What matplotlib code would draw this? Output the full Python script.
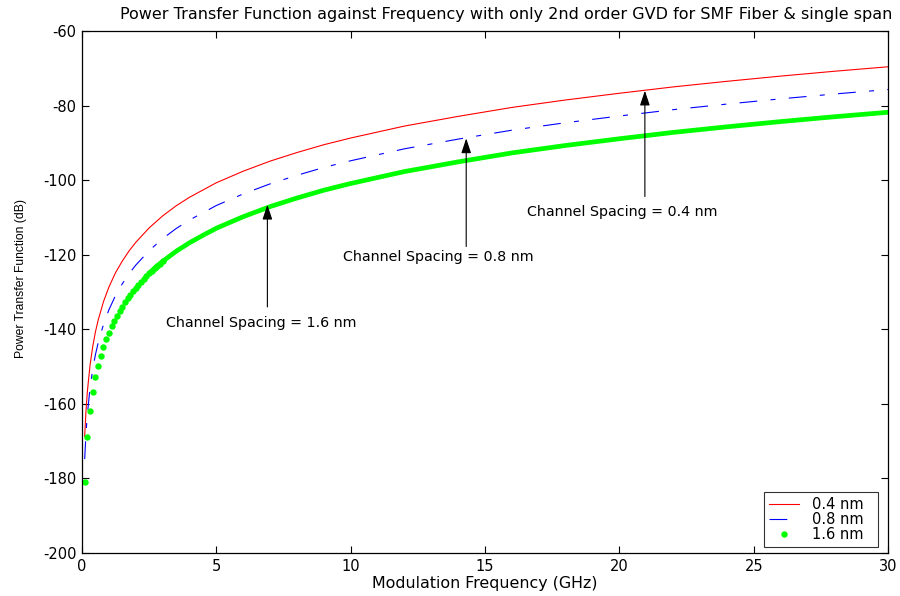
import matplotlib
matplotlib.use("Agg")
import matplotlib.pyplot as plt
import numpy as np

plt.rcParams["font.family"] = ["DejaVu Sans"]
plt.rcParams["axes.unicode_minus"] = False

# Modulation frequency grid (GHz) for the two solid/dashed curves
freq_lines = [0.1, 0.15, 0.2, 0.3, 0.4, 0.5, 0.6, 0.8, 1.0, 1.25, 1.5, 1.75,
              2.0, 2.5, 3, 3.5, 4, 5, 6, 7, 8, 9, 10, 12, 14, 16, 18, 20,
              22, 24, 26, 28, 30]

# Power transfer function (dB), 0.4 nm channel spacing
ptf_04 = [-168.7, -161.7, -156.7, -149.6, -144.6, -140.7, -137.6, -132.6,
          -128.7, -124.8, -121.7, -119.0, -116.7, -112.8, -109.6, -106.9,
          -104.6, -100.7, -97.6, -94.9, -92.6, -90.5, -88.7, -85.5, -82.9,
          -80.5, -78.5, -76.7, -75.0, -73.5, -72.1, -70.8, -69.6]

# Power transfer function (dB), 0.8 nm channel spacing
ptf_08 = [-174.8, -167.8, -162.8, -155.7, -150.7, -146.8, -143.7, -138.7,
          -134.8, -130.9, -127.8, -125.1, -122.8, -118.9, -115.7, -113.0,
          -110.7, -106.8, -103.7, -101.0, -98.7, -96.6, -94.8, -91.6, -89.0,
          -86.6, -84.6, -82.8, -81.1, -79.6, -78.2, -76.9, -75.7]

# 1.6 nm channel spacing, sampled finely at low frequency
freq_16 = [0.1, 0.2, 0.3, 0.4, 0.5, 0.6, 0.7, 0.8, 0.9, 1.0,
           1.1, 1.2, 1.3, 1.4, 1.5, 1.6, 1.7, 1.8, 1.9, 2.0,
           2.1, 2.2, 2.3, 2.4, 2.5, 2.6, 2.7, 2.8, 2.9, 3.0,
           3.5, 4, 4.5, 5, 6, 7, 8, 9, 10, 12, 14, 16, 18, 20,
           22, 24, 26, 28, 30]
ptf_16 = [-180.9, -168.9, -161.8, -156.8, -152.9, -149.8, -147.1, -144.8,
          -142.7, -140.9, -139.2, -137.7, -136.3, -135.1, -133.9, -132.7,
          -131.7, -130.7, -129.8, -128.9, -128.0, -127.2, -126.4, -125.7,
          -125.0, -124.3, -123.6, -123.0, -122.4, -121.8, -119.1, -116.8,
          -114.8, -112.9, -109.8, -107.1, -104.8, -102.7, -100.9, -97.7,
          -95.1, -92.7, -90.7, -88.9, -87.2, -85.7, -84.3, -83.0, -81.8]

# (label, arrow x, text y, arrow tail y, arrow tip y)
notes = [
    ("Channel Spacing = 1.6 nm", 6.9, -138.2, -134.0, -106.6),
    ("Channel Spacing = 0.8 nm", 14.3, -120.5, -117.8, -88.8),
    ("Channel Spacing = 0.4 nm", 20.95, -108.6, -104.4, -76.0),
]
note_text_x = [6.68, 13.25, 20.1]

fig = plt.figure(figsize=(9, 5.96), dpi=100)
ax = fig.add_axes([0.0911, 0.0721, 0.8956, 0.8759])

ax.plot(freq_lines, ptf_04, color="red", lw=0.8, label="0.4 nm")
ax.plot(freq_lines, ptf_08, color="blue", lw=0.8,
        linestyle=(0, (16, 12, 4.5, 12)), label="0.8 nm")

f16 = np.array(freq_16)
p16 = np.array(ptf_16)
dots = f16 <= 3.0
ax.plot(f16[dots], p16[dots], linestyle="none", marker="o", ms=3.6,
        color="#00ff00", mec="#00ff00", label="1.6 nm")
band = f16 >= 2.5
ax.plot(f16[band], p16[band], color="#00ff00", lw=3.4,
        solid_capstyle="round", solid_joinstyle="round")

for (label, x, ty, tail, tip), tx in zip(notes, note_text_x):
    ax.annotate("", xy=(x, tip), xytext=(x, tail),
                arrowprops=dict(arrowstyle="-|>,head_length=0.9,head_width=0.3",
                                color="black", lw=0.8, shrinkA=0, shrinkB=0))
    ax.text(tx, ty, label, ha="center", va="center", fontsize=10.3)

ax.set_xlim(0, 30)
ax.set_ylim(-200, -60)
ax.set_xticks(np.arange(0, 31, 5))
ax.set_yticks(np.arange(-200, -59, 20))
ax.tick_params(direction="in", length=5, width=0.8, top=True, right=True,
               labelsize=10.5, pad=4)
for s in ax.spines.values():
    s.set_linewidth(0.9)

ax.set_xlabel("Modulation Frequency (GHz)", fontsize=11.4, labelpad=2)
ax.set_ylabel("Power Transfer Function (dB)", fontsize=8.7,
              family="Liberation Sans")
ax.yaxis.set_label_coords(-0.068, 0.526)
fig.text(0.562, 0.975,
         "Power Transfer Function against Frequency with only 2nd order GVD "
         "for SMF Fiber & single span",
         ha="center", va="center", fontsize=11.5)

leg = ax.legend(loc="lower right", bbox_to_anchor=(0.9876, 0.0115),
                fontsize=10.5, frameon=True, fancybox=False,
                edgecolor="black", handlelength=2.05, borderpad=0.35,
                labelspacing=0.0, handletextpad=0.9, borderaxespad=0.0)
leg.get_frame().set_linewidth(0.8)
for t in leg.get_texts():
    t.set_text(t.get_text() + "  ")

fig.savefig("out.png", dpi=100, facecolor="white")
